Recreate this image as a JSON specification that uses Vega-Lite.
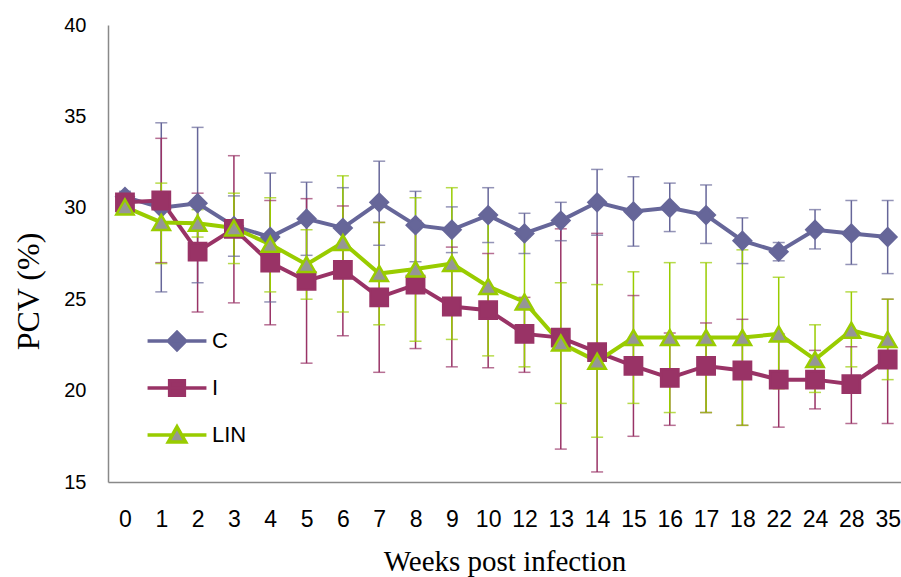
{
  "$schema": "https://vega.github.io/schema/vega-lite/v6.json",
  "width": 793,
  "height": 457,
  "autosize": {"type": "none"},
  "padding": {"left": 108, "top": 25, "right": 0, "bottom": 95},
  "background": "white",
  "config": {"view": {"stroke": null}, "font": "Liberation Sans"},
  "data": {
    "values": [
      {"week": "0", "series": "C", "mean": 30.6, "lo": 30.3, "hi": 30.9},
      {"week": "1", "series": "C", "mean": 30.0, "lo": 25.4, "hi": 34.65},
      {"week": "2", "series": "C", "mean": 30.25, "lo": 25.9, "hi": 34.4},
      {"week": "3", "series": "C", "mean": 29.0, "lo": 27.35, "hi": 30.65},
      {"week": "4", "series": "C", "mean": 28.4, "lo": 24.85, "hi": 31.9},
      {"week": "5", "series": "C", "mean": 29.4, "lo": 27.4, "hi": 31.4},
      {"week": "6", "series": "C", "mean": 28.9, "lo": 26.7, "hi": 31.1},
      {"week": "7", "series": "C", "mean": 30.3, "lo": 27.95, "hi": 32.55},
      {"week": "8", "series": "C", "mean": 29.05, "lo": 27.05, "hi": 30.9},
      {"week": "9", "series": "C", "mean": 28.8, "lo": 27.55, "hi": 30.05},
      {"week": "10", "series": "C", "mean": 29.6, "lo": 28.1, "hi": 31.1},
      {"week": "12", "series": "C", "mean": 28.6, "lo": 27.5, "hi": 29.7},
      {"week": "13", "series": "C", "mean": 29.3, "lo": 28.2, "hi": 30.3},
      {"week": "14", "series": "C", "mean": 30.3, "lo": 28.5, "hi": 32.1},
      {"week": "15", "series": "C", "mean": 29.8, "lo": 27.9, "hi": 31.7},
      {"week": "16", "series": "C", "mean": 30.0, "lo": 28.7, "hi": 31.35},
      {"week": "17", "series": "C", "mean": 29.6, "lo": 28.05, "hi": 31.25},
      {"week": "18", "series": "C", "mean": 28.2, "lo": 26.95, "hi": 29.45},
      {"week": "22", "series": "C", "mean": 27.6, "lo": 27.1, "hi": 28.1},
      {"week": "24", "series": "C", "mean": 28.8, "lo": 27.75, "hi": 29.9},
      {"week": "28", "series": "C", "mean": 28.6, "lo": 26.9, "hi": 30.4},
      {"week": "35", "series": "C", "mean": 28.4, "lo": 26.4, "hi": 30.4},
      {"week": "0", "series": "I", "mean": 30.3, "lo": 30.1, "hi": 30.5},
      {"week": "1", "series": "I", "mean": 30.4, "lo": 27.0, "hi": 33.8},
      {"week": "2", "series": "I", "mean": 27.6, "lo": 24.3, "hi": 30.8},
      {"week": "3", "series": "I", "mean": 28.85, "lo": 24.8, "hi": 32.85},
      {"week": "4", "series": "I", "mean": 27.0, "lo": 23.6, "hi": 30.4},
      {"week": "5", "series": "I", "mean": 26.0, "lo": 21.5, "hi": 30.5},
      {"week": "6", "series": "I", "mean": 26.6, "lo": 23.0, "hi": 30.1},
      {"week": "7", "series": "I", "mean": 25.1, "lo": 21.0, "hi": 29.2},
      {"week": "8", "series": "I", "mean": 25.8, "lo": 22.3, "hi": 29.3},
      {"week": "9", "series": "I", "mean": 24.6, "lo": 21.3, "hi": 27.85},
      {"week": "10", "series": "I", "mean": 24.4, "lo": 21.25, "hi": 27.5},
      {"week": "12", "series": "I", "mean": 23.1, "lo": 21.0, "hi": 25.1},
      {"week": "13", "series": "I", "mean": 22.9, "lo": 16.8, "hi": 28.85},
      {"week": "14", "series": "I", "mean": 22.1, "lo": 15.55, "hi": 28.6},
      {"week": "15", "series": "I", "mean": 21.35, "lo": 17.5, "hi": 25.2},
      {"week": "16", "series": "I", "mean": 20.7, "lo": 18.1, "hi": 23.15},
      {"week": "17", "series": "I", "mean": 21.35, "lo": 18.8, "hi": 23.7},
      {"week": "18", "series": "I", "mean": 21.1, "lo": 18.1, "hi": 23.9},
      {"week": "22", "series": "I", "mean": 20.6, "lo": 18.0, "hi": 23.1},
      {"week": "24", "series": "I", "mean": 20.6, "lo": 19.0, "hi": 22.2},
      {"week": "28", "series": "I", "mean": 20.35, "lo": 18.2, "hi": 22.4},
      {"week": "35", "series": "I", "mean": 21.7, "lo": 18.2, "hi": 25.0},
      {"week": "0", "series": "LIN", "mean": 30.05, "lo": 29.85, "hi": 30.25},
      {"week": "1", "series": "LIN", "mean": 29.2, "lo": 26.95, "hi": 31.35},
      {"week": "2", "series": "LIN", "mean": 29.15, "lo": 28.4, "hi": 29.9},
      {"week": "3", "series": "LIN", "mean": 28.9, "lo": 26.95, "hi": 30.8},
      {"week": "4", "series": "LIN", "mean": 28.0, "lo": 25.4, "hi": 30.55},
      {"week": "5", "series": "LIN", "mean": 26.9, "lo": 25.0, "hi": 28.8},
      {"week": "6", "series": "LIN", "mean": 28.1, "lo": 24.3, "hi": 31.75},
      {"week": "7", "series": "LIN", "mean": 26.4, "lo": 23.6, "hi": 29.2},
      {"week": "8", "series": "LIN", "mean": 26.65, "lo": 22.7, "hi": 30.55},
      {"week": "9", "series": "LIN", "mean": 26.95, "lo": 22.8, "hi": 31.1},
      {"week": "10", "series": "LIN", "mean": 25.7, "lo": 21.9, "hi": 29.5},
      {"week": "12", "series": "LIN", "mean": 24.85, "lo": 21.3, "hi": 28.4},
      {"week": "13", "series": "LIN", "mean": 22.6, "lo": 19.3, "hi": 25.9},
      {"week": "14", "series": "LIN", "mean": 21.6, "lo": 17.45, "hi": 25.8},
      {"week": "15", "series": "LIN", "mean": 22.9, "lo": 19.3, "hi": 26.5},
      {"week": "16", "series": "LIN", "mean": 22.9, "lo": 18.8, "hi": 27.0},
      {"week": "17", "series": "LIN", "mean": 22.9, "lo": 18.8, "hi": 27.0},
      {"week": "18", "series": "LIN", "mean": 22.9, "lo": 18.1, "hi": 27.7},
      {"week": "22", "series": "LIN", "mean": 23.1, "lo": 20.1, "hi": 26.2},
      {"week": "24", "series": "LIN", "mean": 21.7, "lo": 19.9, "hi": 23.6},
      {"week": "28", "series": "LIN", "mean": 23.3, "lo": 21.3, "hi": 25.4},
      {"week": "35", "series": "LIN", "mean": 22.8, "lo": 20.6, "hi": 25.0}
    ]
  },
  "encoding": {
    "x": {
      "field": "week",
      "type": "ordinal",
      "sort": ["0","1","2","3","4","5","6","7","8","9","10","12","13","14","15","16","17","18","22","24","28","35"],
      "scale": {"type": "point", "padding": 0.417, "align": 0.56},
      "axis": {
        "title": "Weeks post infection",
        "labelAngle": 0,
        "ticks": false,
        "tickSize": 0,
        "grid": false,
        "labelPadding": 26,
        "labelFont": "'Liberation Sans Narrow', 'Liberation Sans', sans-serif",
        "labelFontSize": 23,
        "labelColor": "black",
        "domainColor": "#898989",
        "domainWidth": 1.5,
        "titleFont": "Liberation Serif",
        "titleFontSize": 29,
        "titleFontWeight": "normal",
        "titleColor": "black",
        "titlePadding": 16
      }
    }
  },
  "layer": [
    {
      "mark": {"type": "rule", "strokeWidth": 1.5},
      "encoding": {
        "y": {"field": "lo", "type": "quantitative", "scale": {"domain": [15, 40], "nice": false, "zero": false}},
        "y2": {"field": "hi"},
        "color": {"field": "series", "type": "nominal", "scale": {"domain": ["C", "I", "LIN"], "range": ["#666699", "#993366", "#99CC00"]}, "legend": null}
      }
    },
    {
      "mark": {"type": "tick", "thickness": 1.5, "size": 12},
      "encoding": {
        "y": {"field": "lo", "type": "quantitative"},
        "color": {"field": "series", "type": "nominal", "legend": null}
      }
    },
    {
      "mark": {"type": "tick", "thickness": 1.5, "size": 12},
      "encoding": {
        "y": {"field": "hi", "type": "quantitative"},
        "color": {"field": "series", "type": "nominal", "legend": null}
      }
    },
    {
      "mark": {"type": "line", "strokeWidth": 4},
      "encoding": {
        "y": {
          "field": "mean",
          "type": "quantitative",
          "axis": {
            "title": "PCV (%)",
            "values": [15, 20, 25, 30, 35, 40],
            "grid": false,
            "ticks": false,
            "tickSize": 0,
            "labelPadding": 22,
            "labelFont": "Liberation Sans",
            "labelFontSize": 20,
            "labelColor": "black",
            "domainColor": "#898989",
            "domainWidth": 1.5,
            "titleFont": "Liberation Serif",
            "titleFontSize": 32,
            "titleFontWeight": "normal",
            "titleColor": "black",
            "titleX": -80,
            "titleY": 266,
            "titleAlign": "center",
            "titleBaseline": "middle",
            "titleAngle": -90
          }
        },
        "color": {"field": "series", "type": "nominal", "legend": null}
      }
    },
    {
      "mark": {"type": "point", "filled": true, "opacity": 1, "size": 300, "strokeWidth": 2.5},
      "encoding": {
        "y": {"field": "mean", "type": "quantitative"},
        "shape": {
          "condition": [
            {"test": "datum.series === 'C'", "value": "diamond"},
            {"test": "datum.series === 'I'", "value": "square"}
          ],
          "value": "triangle-up"
        },
        "fill": {
          "condition": [
            {"test": "datum.series === 'C'", "value": "#666699"},
            {"test": "datum.series === 'I'", "value": "#993366"}
          ],
          "value": "#969696"
        },
        "stroke": {
          "condition": [
            {"test": "datum.series === 'C'", "value": "#666699"},
            {"test": "datum.series === 'I'", "value": "#993366"}
          ],
          "value": "#99CC00"
        }
      }
    },
    {
      "mark": {"type": "point", "filled": true, "opacity": 0, "size": 300, "strokeWidth": 3.5},
      "encoding": {
        "y": {"field": "mean", "type": "quantitative"},
        "shape": {
          "field": "series",
          "type": "nominal",
          "scale": {"range": ["M-3.4,0H3.4M0,-1L1,0L0,1L-1,0Z", "M-3.4,0H3.4M-0.85,-0.85H0.85V0.85H-0.85Z", "M-3.4,0H-0.55M0.55,0H3.4M0,-0.95L1,0.8H-1Z"]},
          "legend": {
            "orient": "none",
            "legendX": 58,
            "legendY": 305,
            "title": null,
            "symbolSize": 300,
            "symbolStrokeWidth": 3.5,
            "symbolOpacity": 1,
            "labelFont": "Liberation Sans",
            "labelFontSize": 22,
            "labelColor": "black",
            "labelOffset": 24,
            "rowPadding": 16
          }
        },
        "fill": {
          "field": "series",
          "type": "nominal",
          "scale": {"range": ["#666699", "#993366", "#969696"]},
          "legend": {
            "orient": "none",
            "legendX": 58,
            "legendY": 305,
            "title": null,
            "symbolSize": 300,
            "symbolStrokeWidth": 3.5,
            "symbolOpacity": 1,
            "labelFont": "Liberation Sans",
            "labelFontSize": 22,
            "labelColor": "black",
            "labelOffset": 24,
            "rowPadding": 16
          }
        },
        "stroke": {
          "field": "series",
          "type": "nominal",
          "scale": {"range": ["#666699", "#993366", "#99CC00"]},
          "legend": {
            "orient": "none",
            "legendX": 58,
            "legendY": 305,
            "title": null,
            "symbolSize": 300,
            "symbolStrokeWidth": 3.5,
            "symbolOpacity": 1,
            "labelFont": "Liberation Sans",
            "labelFontSize": 22,
            "labelColor": "black",
            "labelOffset": 24,
            "rowPadding": 16
          }
        }
      }
    }
  ]
}
